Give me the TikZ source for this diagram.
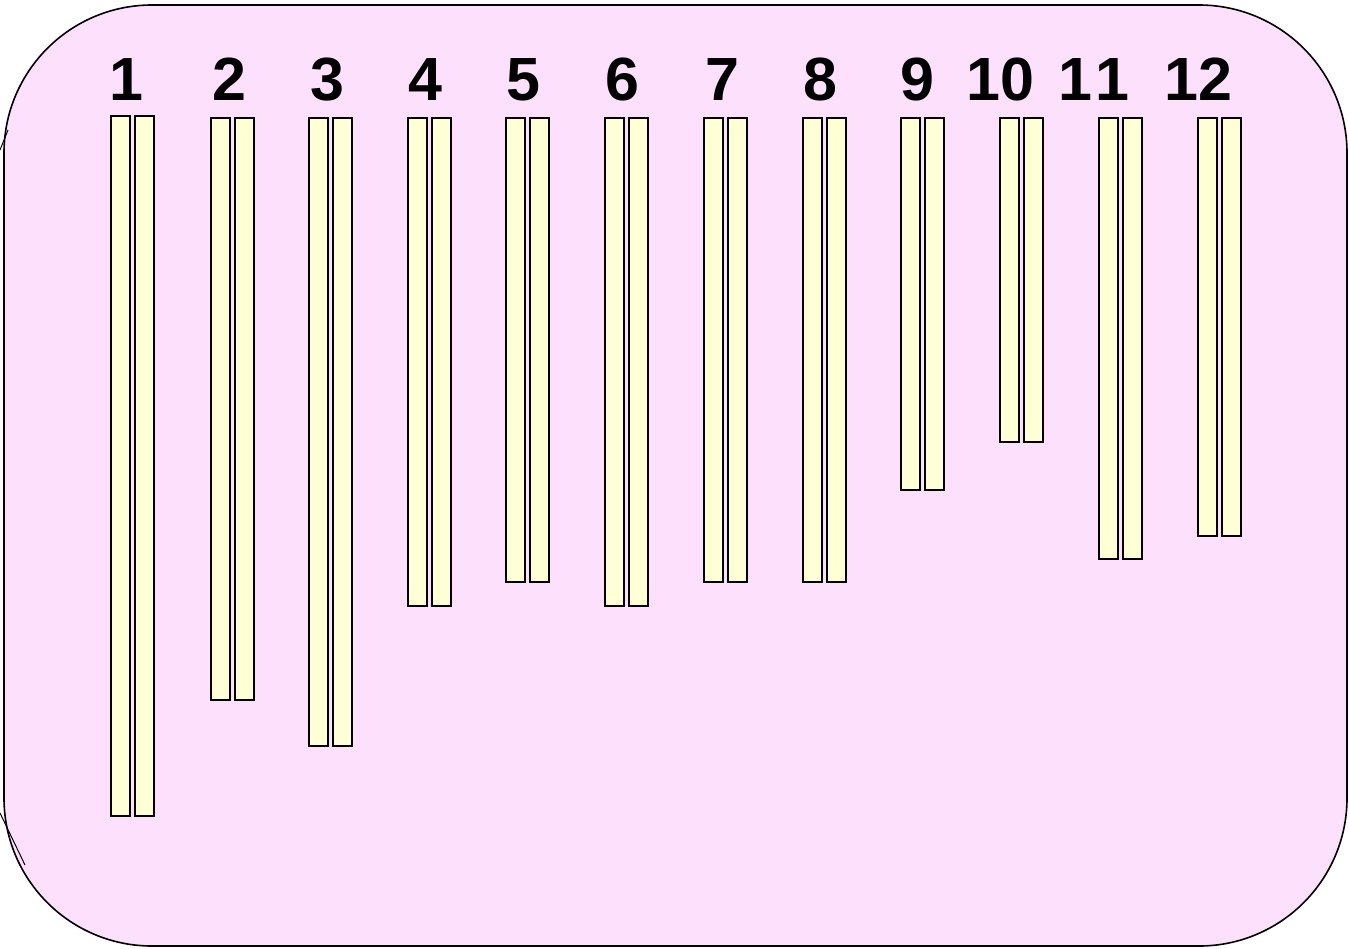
\documentclass[tikz,border=0pt]{standalone}
\usepackage{fontspec}
\setmainfont{Liberation Sans}
\definecolor{bgpink}{RGB}{252,224,252}
\definecolor{baryellow}{RGB}{255,255,214}
\tikzset{
  chrom/.style={draw=black, fill=baryellow, line width=1.9pt},
  numlabel/.style={font=\fontsize{61}{61}\selectfont\bfseries, anchor=base, inner sep=0pt},
  frame/.style={draw=black, fill=bgpink, line width=1.6pt, rounded corners=148pt}
}
\begin{document}
\begin{tikzpicture}[x=1pt,y=-1pt]
\useasboundingbox (0,0) rectangle (1349,948);
\draw[frame] (4,5) rectangle (1347,946);
\draw[line width=1pt] (0,150) -- (8,130);
\draw[line width=1pt] (0,813) -- (25,865);
% chromosome pairs: left x, bottom y
\foreach \i/\x/\b/\t in {1/111/816/116, 2/211/700/118, 3/309/746/118, 4/408/606/118,
  5/506/582/118, 6/605/606/118, 7/704/582/118, 8/803/582/118, 9/901/490/118,
  10/1000/442/118, 11/1099/559/118, 12/1198/536/118}{
  \draw[chrom] (\x,\t) rectangle ++(19,\b-\t);
  \draw[chrom] (\x+24,\t) rectangle ++(19,\b-\t);
}
\foreach \i/\x in {1/126, 2/229, 3/327, 4/425, 5/523, 6/622, 7/722, 8/820, 9/917, 10/1000, 12/1198}{
  \node[numlabel] (n\i) at (\x,100) {\i};
}
\node[numlabel] (n11) at (1094,100) {1\kern4pt 1};
\end{tikzpicture}
\end{document}
